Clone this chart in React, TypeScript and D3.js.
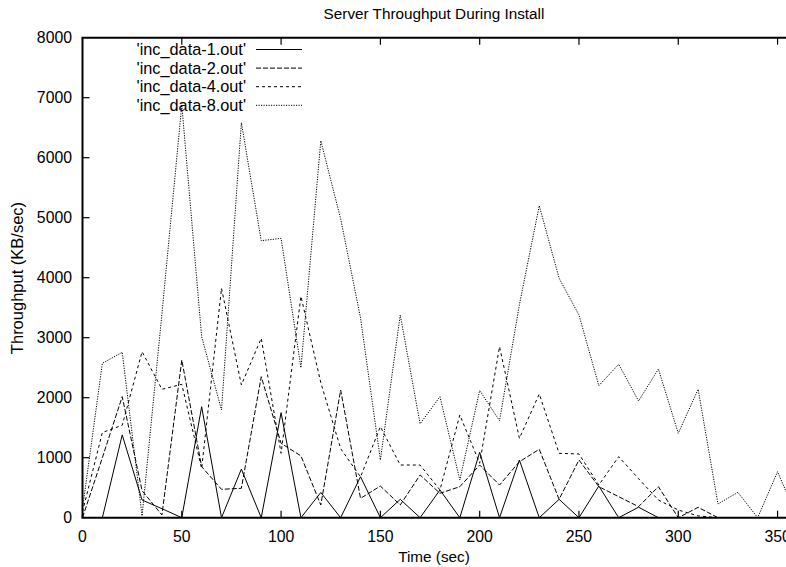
import React from "react";
import * as d3 from "d3";

const times = [0, 10, 20, 30, 40, 50, 60, 70, 80, 90, 100, 110, 120, 130, 140, 150, 160, 170, 180, 190, 200, 210, 220, 230, 240, 250, 260, 270, 280, 290, 300, 310, 320, 330, 340, 350, 360];

const data1 = [0, 0, 1380, 295, 150, 0, 1850, 0, 810, 0, 1750, 0, 420, 0, 683, 0, 306, 0, 462, 0, 1090, 0, 962, 0, 306, 0, 528, 0, 175, 0, 0, 0, 0, 0, 0, 0, 0];
const data2 = [0, 1000, 2017, 450, 45, 2628, 850, 473, 490, 2350, 1240, 1030, 212, 2128, 322, 528, 212, 712, 407, 517, 878, 545, 933, 1140, 306, 962, 517, 350, 184, 517, 0, 173, 0, 0, 0, 0, 0];
const data4 = [100, 1420, 1540, 2767, 2140, 2223, 820, 3823, 2212, 2990, 1073, 3690, 2250, 1150, 680, 1517, 878, 878, 462, 1712, 907, 2850, 1323, 2062, 1073, 1062, 545, 1017, 650, 295, 128, 30, 0, 0, 0, 0, 0];
const data8 = [150, 2573, 2757, 30, 3400, 6880, 3017, 1795, 6583, 4617, 4656, 2500, 6283, 4980, 3330, 962, 3378, 1565, 2017, 630, 2120, 1617, 3550, 5200, 3990, 3378, 2200, 2557, 1945, 2478, 1407, 2140, 228, 423, 0, 767, 0];

const seriesNames = ["'inc_data-1.out'", "'inc_data-2.out'", "'inc_data-4.out'", "'inc_data-8.out'"];
const seriesValues = [data1, data2, data4, data8];
const dashes = ["none", "5,2", "3,3", "1.2,1.3"];

const xTicks = [0, 50, 100, 150, 200, 250, 300, 350];
const yTicks = [0, 1000, 2000, 3000, 4000, 5000, 6000, 7000, 8000];

const W = 786;
const H = 567;
const left = 82.5;
const right = 786.5;
const top = 37.7;
const bottom = 517.7;
const FONT = "'Liberation Sans', Arial, Helvetica, sans-serif";
const FS = 15.3;

export default function App() {
  const x = d3.scaleLinear().domain([0, 354.5]).range([left, right]);
  const y = d3.scaleLinear().domain([0, 8000]).range([bottom, top]);
  const line = d3
    .line<[number, number]>()
    .x((d) => x(d[0]))
    .y((d) => y(d[1]));

  const tickLen = 7;

  return (
    <svg
      width={W}
      height={H}
      style={{ position: "absolute", left: 0, top: 0, background: "#fff" }}
      fontFamily={FONT}
    >
      <rect x={0} y={0} width={W} height={H} fill="#fff" />
      <defs>
        <clipPath id="plotclip">
          <rect x={left} y={top} width={right - left} height={bottom - top} />
        </clipPath>
      </defs>

      {/* title */}
      <text x={434} y={19} textAnchor="middle" fontSize={FS} fill="#000">
        Server Throughput During Install
      </text>

      {/* series */}
      <g clipPath="url(#plotclip)">
        {seriesValues.map((vals, i) => (
          <path
            key={i}
            d={line(times.map((t, j) => [t, vals[j]] as [number, number])) || ""}
            fill="none"
            stroke="#000"
            strokeWidth={1}
            strokeDasharray={dashes[i]}
          />
        ))}
      </g>

      {/* axes border */}
      <line x1={left} y1={top} x2={left} y2={bottom} stroke="#000" strokeWidth={2} />
      <line x1={left - 1} y1={bottom} x2={W} y2={bottom} stroke="#000" strokeWidth={2} />
      <line x1={left - 1} y1={top} x2={W} y2={top} stroke="#000" strokeWidth={2} />

      {/* y ticks */}
      {yTicks.map((v) => (
        <g key={"y" + v}>
          {v !== 0 && v !== 8000 && (
            <line x1={left} x2={left + tickLen} y1={y(v)} y2={y(v)} stroke="#000" strokeWidth={1.2} />
          )}
          <text x={72} y={y(v) + 5.5} textAnchor="end" fontSize={FS + 0.5} fill="#000">
            {v}
          </text>
        </g>
      ))}

      {/* x ticks */}
      {xTicks.map((v) => (
        <g key={"x" + v}>
          {v !== 0 && (
            <>
              <line x1={x(v)} x2={x(v)} y1={bottom} y2={bottom - tickLen} stroke="#000" strokeWidth={1.2} />
              <line x1={x(v)} x2={x(v)} y1={top} y2={top + tickLen} stroke="#000" strokeWidth={1.2} />
            </>
          )}
          <text x={x(v)} y={541.5} textAnchor="middle" fontSize={FS + 0.5} fill="#000">
            {v}
          </text>
        </g>
      ))}

      {/* axis labels */}
      <text x={434} y={562} textAnchor="middle" fontSize={FS} fill="#000">
        Time (sec)
      </text>
      <text
        transform={`translate(23, 278) rotate(-90)`}
        textAnchor="middle"
        fontSize={16.5}
        fill="#000"
      >
        Throughput (KB/sec)
      </text>

      {/* legend */}
      {seriesNames.map((name, i) => {
        const cy = 49.5 + i * 18.6;
        return (
          <g key={"lg" + i}>
            <text x={246} y={cy + 5.5} textAnchor="end" fontSize={16.3} fill="#000">
              {name}
            </text>
            <line
              x1={256}
              x2={302}
              y1={cy}
              y2={cy}
              stroke="#000"
              strokeWidth={1}
              strokeDasharray={dashes[i]}
            />
          </g>
        );
      })}
    </svg>
  );
}
